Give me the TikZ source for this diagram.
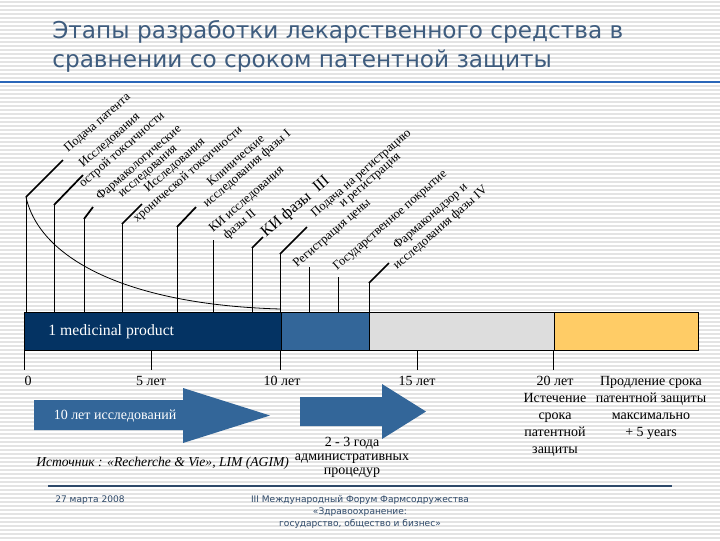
\documentclass[tikz,border=0pt]{standalone}
\usepackage{fontspec}
\setmainfont{Liberation Serif}
\newfontfamily\titlefont{DejaVu Sans}
\definecolor{navy}{HTML}{043363}
\definecolor{midblue}{HTML}{336699}
\definecolor{lgray}{HTML}{DDDDDD}
\definecolor{orng}{HTML}{FFCC66}
\definecolor{titlec}{HTML}{3E5C7E}
\definecolor{rulec}{HTML}{2A66B8}
\definecolor{footc}{HTML}{2F4A6A}
\definecolor{stripec}{HTML}{E3E3E3}
\tikzset{
  stripe/.style={stripec, line width=0.9pt},
  seg/.style={draw=black, line width=0.8pt},
  vlead/.style={black, line width=0.7pt},
  dlead/.style={black, line width=1.3pt},
  rlab/.style={rotate=41, anchor=base west, inner sep=0pt, font=\fontsize{9.5}{10}\selectfont},
  axlab/.style={anchor=base, inner sep=0pt, font=\fontsize{10.5}{12.75}\selectfont},
  colab/.style={align=center, inner sep=0pt, font=\fontsize{10.5}{12.75}\selectfont},
  bigarrow/.style={fill=midblue, draw=none},
  foot/.style={inner sep=0pt, text=footc, font=\titlefont\fontsize{6.8}{9}\selectfont}
}
\begin{document}
\begin{tikzpicture}[x=0.75pt,y=-0.75pt]
\useasboundingbox (0,0) rectangle (720,540);
\fill[white] (0,0) rectangle (720,540);
\foreach \yy in {2,6,...,538} \draw[stripe] (0,\yy) -- (720,\yy);

% title
\node[anchor=base west, inner sep=0pt, text=titlec, font=\titlefont\fontsize{17.4}{20}\selectfont] (t1) at (52,38) {Этапы разработки лекарственного средства в};
\node[anchor=base west, inner sep=0pt, text=titlec, font=\titlefont\fontsize{17.4}{20}\selectfont] (t2) at (52,67) {сравнении со сроком патентной защиты};
\coordinate (rl) at (0,82); \coordinate (rr) at (720,82);
\draw[rulec, line width=2.2pt] (rl) -- (rr);

% bar
\node[seg, fill=navy, minimum width=257*0.75pt, minimum height=38*0.75pt, inner sep=0pt, anchor=north west] (b1) at (24,312) {};
\node[seg, fill=midblue, minimum width=88*0.75pt, minimum height=38*0.75pt, inner sep=0pt, anchor=north west] (b2) at (281,312) {};
\node[seg, fill=lgray, minimum width=185*0.75pt, minimum height=38*0.75pt, inner sep=0pt, anchor=north west] (b3) at (369,312) {};
\node[seg, fill=orng, minimum width=144*0.75pt, minimum height=38*0.75pt, inner sep=0pt, anchor=north west] (b4) at (554,312) {};
\node[anchor=base west, inner sep=0pt, text=white, font=\fontsize{11.8}{13}\selectfont] (mp) at (48,335) {1 medicinal product};

% leader lines
\foreach \n/\x/\yt/\dx/\dy in {1/26/197/63/160, 2/54/205/83/175, 3/84/219/93/207, 4/122/224/142/204, 5/177/227/196/207, 7/252/248/263/237, 8/280/254/307/227, 11/369/283/389/263}{
  \coordinate (lb\n) at (\x,312);
  \coordinate (lt\n) at (\x,\yt);
  \coordinate (ld\n) at (\dx,\dy);
  \draw[vlead] (lb\n) -- (lt\n);
  \draw[dlead] (lt\n) -- (ld\n);
}
\foreach \n/\x/\yt in {6/213/240, 9/309/267, 10/338/277}{
  \coordinate (lb\n) at (\x,312);
  \coordinate (lt\n) at (\x,\yt);
  \draw[vlead] (lb\n) -- (lt\n);
}
\coordinate (cend) at (281,309);
\draw[black, line width=0.6pt] (lt1) .. controls (40,260) and (130,305) .. (cend);

% rotated labels
\node[rlab] (r1) at (68,153) {Подача патента};
\node[rlab] (r2a) at (83,168) {Исследования};
\node[rlab] (r2b) at (83,188) {острой токсичности};
\node[rlab] (r3a) at (100,201) {Фармакологические};
\node[rlab] (r3b) at (122,198) {исследования};
\node[rlab] (r4a) at (148,193) {Исследования};
\node[rlab] (r4b) at (137,223) {хронической токсичности};
\node[rlab] (r5a) at (211,187) {Клинические};
\node[rlab] (r5b) at (207,208) {исследования фазы I};
\node[rlab] (r6a) at (213,233) {КИ исследования};
\node[rlab] (r6b) at (227,240) {фазы II};
\node[rlab, font=\fontsize{12}{13}\selectfont] (r7) at (266,238) {КИ фазы\ \ III};
\node[rlab] (r8a) at (315,218) {Подача на регистрацию};
\node[rlab] (r8b) at (343,208) {и регистрация};
\node[rlab] (r9) at (297,268) {Регистрация цены};
\node[rlab] (r10) at (337,271) {Государственное покрытие};
\node[rlab] (r11a) at (397,250) {Фармаконадзор и};
\node[rlab] (r11b) at (397,270) {исследования фазы IV};

% ticks under bar
\foreach \n/\x in {0/24,5/151,10/280,15/417,20/553}{
  \coordinate (tk\n) at (\x,350);
  \coordinate (tb\n) at (\x,370);
  \draw[vlead] (tk\n) -- (tb\n);
}
\node[axlab] (a0) at (28,385) {0};
\node[axlab] (a5) at (151,385) {5 лет};
\node[axlab] (a10) at (282,385) {10 лет};
\node[axlab] (a15) at (417,385) {15 лет};

\node[colab, anchor=north] (c20) at (555,376) {20 лет\\Истечение\\срока\\патентной\\защиты};
\node[colab, anchor=north] (cpr) at (651,376) {Продление срока\\патентной защиты\\максимально\\+ 5 years};

% arrows
\fill[bigarrow] (34,400) -- (183,400) -- (183,388) -- (270,415.5) -- (183,443) -- (183,430) -- (34,430) -- cycle;
\node[anchor=center, inner sep=0pt, text=white, font=\fontsize{10.5}{12}\selectfont] (al1) at (115,416) {10 лет исследований};
\fill[bigarrow] (300,397) -- (382,397) -- (382,384) -- (426,411.5) -- (382,439) -- (382,426) -- (300,426) -- cycle;
\node[align=center, inner sep=0pt, anchor=base, font=\fontsize{10.5}{10.5}\selectfont] (al2) at (352,474) {2 - 3 года\\административных\\процедур};
\node[anchor=base west, inner sep=0pt, font=\itshape\fontsize{10.2}{12}\selectfont] (src) at (36,466) {Источник : «Recherche \& Vie», LIM (AGIM)};

% footer
\coordinate (fl) at (48,486); \coordinate (fr) at (672,486);
\draw[footc, line width=1.1pt] (fl) -- (fr);
\node[foot, anchor=west] (date) at (55,500) {27 марта 2008};
\node[foot, align=center, anchor=north] (forum) at (360,495) {III Международный Форум Фармсодружества\\«Здравоохранение:\\государство, общество и бизнес»};
\end{tikzpicture}
\end{document}
